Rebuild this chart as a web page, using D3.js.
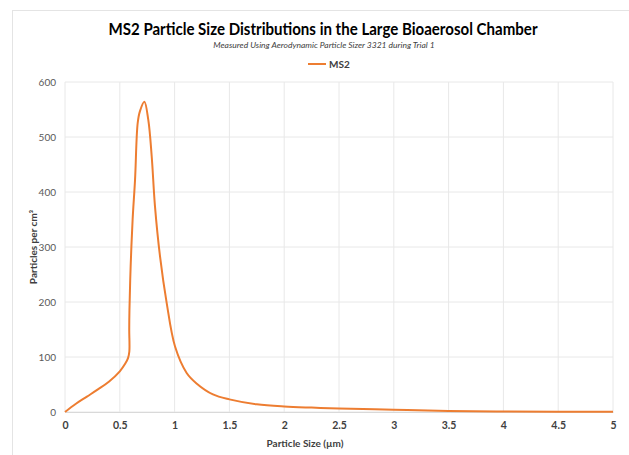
<!DOCTYPE html>
<html>
<head>
<meta charset="utf-8">
<script src="https://cdn.jsdelivr.net/npm/d3@7"></script>
<style>
  body { margin: 0; background: #fff; }
  text { font-family: Lato, "Open Sans", sans-serif; }
</style>
</head>
<body>
<svg id="chart" width="629" height="455"></svg>
<script>
// particle size (um) and concentration (particles per cm3)
var sizes = [0, 0.1, 0.2, 0.3, 0.4, 0.5, 0.55, 0.575, 0.587, 0.586, 0.588, 0.599, 0.617, 0.639, 0.663, 0.684, 0.724,
  0.76, 0.791, 0.821, 0.867, 0.928, 1.004, 1.11, 1.2, 1.35, 1.5, 1.75, 2, 2.25, 2.5, 3, 3.5, 4, 4.5, 5];
var counts = [0, 15, 28, 41, 55, 74, 88, 98, 110, 150, 185, 265, 350, 422, 525, 547, 564,
  531, 465, 374, 283, 198, 119, 71, 52, 32, 23, 14, 10, 8, 6.5, 4, 2, 1, 0.5, 0.3];
var xTicks = [0, 0.5, 1, 1.5, 2, 2.5, 3, 3.5, 4, 4.5, 5];
var yTicks = [0, 100, 200, 300, 400, 500, 600];
var seriesName = "MS2";

var svg = d3.select("#chart");
var margin = {left: 65, right: 16, top: 82, bottom: 43};
var W = 629, H = 455;

// outer frame
svg.append("rect").attr("x", 12.5).attr("y", 10.5).attr("width", 640).attr("height", 460)
  .attr("fill", "none").attr("stroke", "#e4e4e4");

var x = d3.scaleLinear().domain([0, 5]).range([margin.left, W - margin.right]);
var y = d3.scaleLinear().domain([0, 600]).range([H - margin.bottom, margin.top]);

// grid
svg.append("g").selectAll("line").data(yTicks).enter().append("line")
  .attr("x1", x(0)).attr("x2", x(5))
  .attr("y1", function(d) { return y(d); }).attr("y2", function(d) { return y(d); })
  .attr("stroke", "#e8e8e8");
svg.append("g").selectAll("line").data(xTicks).enter().append("line")
  .attr("y1", y(0)).attr("y2", y(600))
  .attr("x1", function(d) { return x(d); }).attr("x2", function(d) { return x(d); })
  .attr("stroke", "#e8e8e8");

// axes
var xAxis = svg.append("g").attr("transform", "translate(0," + y(0) + ")")
  .call(d3.axisBottom(x).tickValues(xTicks).tickSize(0).tickPadding(10).tickFormat(d3.format("")));
xAxis.select(".domain").attr("stroke", "#d9d9d9");
xAxis.selectAll("text").attr("font-size", 10.5).attr("font-weight", "bold").attr("fill", "#404040");

var yAxis = svg.append("g").attr("transform", "translate(" + x(0) + ",0)")
  .call(d3.axisLeft(y).tickValues(yTicks).tickSize(0).tickPadding(9));
yAxis.select(".domain").remove();
yAxis.selectAll("text").attr("font-size", 10).attr("fill", "#595959");

// line
var line = d3.line()
  .x(function(d) { return x(d[0]); })
  .y(function(d) { return y(d[1]); })
  .curve(d3.curveCatmullRom.alpha(0.5));
svg.append("path").datum(d3.zip(sizes, counts))
  .attr("d", line).attr("fill", "none").attr("stroke", "#ED7D31").attr("stroke-width", 2);

// titles
svg.append("text").attr("x", 323).attr("y", 35).attr("text-anchor", "middle")
  .attr("font-size", 17).attr("font-weight", "bold").attr("fill", "#000")
  .attr("textLength", 429).attr("lengthAdjust", "spacingAndGlyphs")
  .text("MS2 Particle Size Distributions in the Large Bioaerosol Chamber");
svg.append("text").attr("x", 324).attr("y", 48).attr("text-anchor", "middle")
  .attr("font-size", 8.5).attr("font-style", "italic").attr("fill", "#404040")
  .text("Measured Using Aerodynamic Particle Sizer 3321 during Trial 1");

// legend
svg.append("line").attr("x1", 308).attr("x2", 326).attr("y1", 64).attr("y2", 64)
  .attr("stroke", "#ED7D31").attr("stroke-width", 2);
svg.append("text").attr("x", 329).attr("y", 68).attr("font-size", 10).attr("font-weight", "bold")
  .attr("fill", "#404040").text(seriesName);

// axis titles
svg.append("text").attr("x", 305).attr("y", 447).attr("text-anchor", "middle")
  .attr("font-size", 10).attr("font-weight", "bold").attr("fill", "#404040")
  .text("Particle Size (µm)");
svg.append("text").attr("transform", "translate(37,247) rotate(-90)").attr("text-anchor", "middle")
  .attr("font-size", 10).attr("font-weight", "bold").attr("fill", "#404040")
  .text("Particles per cm³");
</script>
</body>
</html>
